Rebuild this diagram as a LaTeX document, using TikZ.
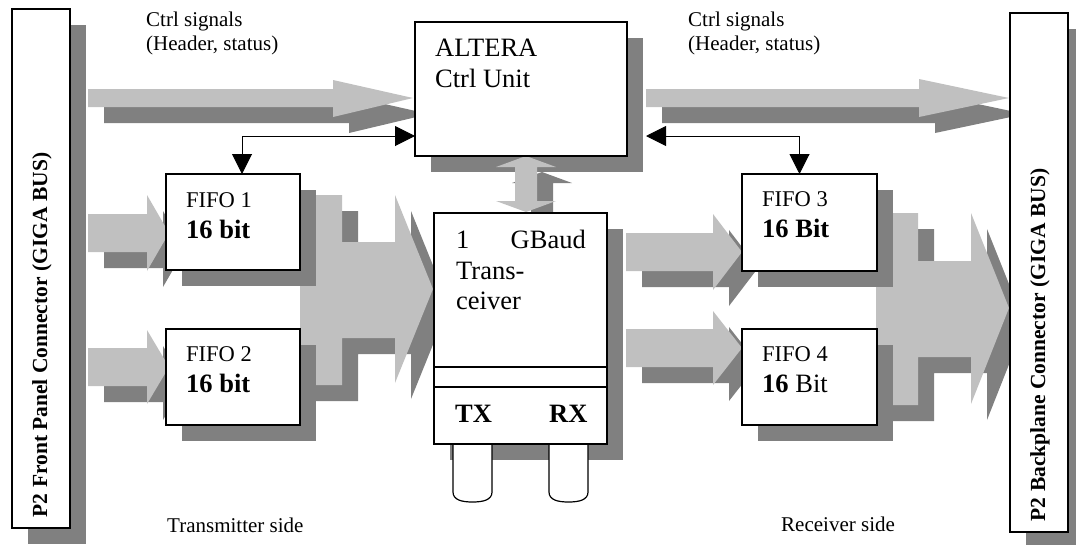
\documentclass[tikz,border=0pt]{standalone}
\usepackage{fontspec}
\setmainfont{Liberation Serif}
\usetikzlibrary{arrows.meta,calc}
\pgfdeclarelayer{ash}
\pgfdeclarelayer{arr}
\pgfdeclarelayer{bsh}
\pgfdeclarelayer{vsh}
\pgfdeclarelayer{varr}
\pgfsetlayers{ash,arr,bsh,vsh,varr,main}
\definecolor{lightarr}{HTML}{C0C0C0}
\definecolor{darksh}{HTML}{808080}
\newcommand\fsz[1]{\fontsize{#1}{#1}\selectfont}
\begin{document}
\begin{tikzpicture}[x=1pt,y=-1pt,
  box/.style={draw, line width=1.6pt, fill=white, outer sep=0pt, inner sep=0pt, anchor=north west},
  lbl/.style={inner sep=0pt, anchor=base west, font=\fsz{21}},
  boxtxt/.style={inner sep=0pt, anchor=base west, font=\fsz{22.5}},
  bigtxt/.style={inner sep=0pt, anchor=base west, font=\fsz{26.5}},
  boldtxt/.style={inner sep=0pt, anchor=base west, font=\fsz{26.5}\bfseries},
  conntxt/.style={inner sep=0pt, rotate=90, font=\fsz{21.5}\bfseries},
  biarrow/.style={line width=1pt, {Triangle[length=20pt,width=20pt]}-{Triangle[length=20pt,width=20pt]}},
  plug/.style={draw, line width=1.2pt, fill=white}]
\useasboundingbox (0,0) rectangle (1076,544);

% block arrows: shadow pass, then light pass
\foreach \d/\c/\l in {16/darksh/ash, 0/lightarr/arr}{
  \begin{pgfonlayer}{\l}
  \begin{scope}[shift={(\d,\d)}]
    \fill[\c] (88,89) -- (333,89) -- (333,80) -- (413,98) -- (333,117) -- (333,107) -- (88,107) -- cycle;
    \fill[\c] (646,89) -- (919,89) -- (919,79) -- (1009,98) -- (919,117) -- (919,107) -- (646,107) -- cycle;
    \fill[\c] (88,214) -- (147,214) -- (147,195) -- (169,233) -- (147,271) -- (147,252) -- (88,252) -- cycle;
    \fill[\c] (88,348) -- (147,348) -- (147,330) -- (169,367) -- (147,404) -- (147,386) -- (88,386) -- cycle;
    \fill[\c] (626,233) -- (713,233) -- (713,214) -- (742,252) -- (713,290) -- (713,271) -- (626,271) -- cycle;
    \fill[\c] (626,329) -- (713,329) -- (713,311) -- (742,348) -- (713,385) -- (713,367) -- (626,367) -- cycle;
    \fill[\c] (300,195) -- (342,195) -- (342,242) -- (395,242) -- (395,195) -- (433,289) -- (395,383) -- (395,338) -- (342,338) -- (342,385) -- (300,385) -- cycle;
    \fill[\c] (876,213) -- (918,213) -- (918,261) -- (971,261) -- (971,213) -- (1009,308) -- (971,404) -- (971,357) -- (918,357) -- (918,405) -- (876,405) -- cycle;
  \end{scope}
  \end{pgfonlayer}
}
% vertical double arrow between control unit and transceiver
\foreach \d/\c/\l in {16/darksh/vsh, 0/lightarr/varr}{
  \begin{pgfonlayer}{\l}
  \begin{scope}[shift={(\d,\d)}]
    \fill[\c] (526,156) -- (556,167) -- (537,167) -- (537,201) -- (556,201) -- (526,212) -- (496,201) -- (515,201) -- (515,167) -- (496,167) -- cycle;
  \end{scope}
  \end{pgfonlayer}
}

% plugs below the transceiver
\draw[plug] (453,444) -- (453,492) .. controls (453,500) and (462,502) .. (472.5,502) .. controls (483,502) and (492,500) .. (492,492) -- (492,444);
\draw[plug] (549,444) -- (549,492) .. controls (549,500) and (558,502) .. (568.5,502) .. controls (579,502) and (588,500) .. (588,492) -- (588,444);

% boxes
\node[box, minimum width=58pt, minimum height=519pt] (lconn) at (12,9) {};
\node[box, minimum width=58pt, minimum height=519pt] (rconn) at (1010,13) {};
\node[box, minimum width=212pt, minimum height=134pt] (altera) at (415,22) {};
\node[box, minimum width=134pt, minimum height=96pt] (fifo1) at (166,174) {};
\node[box, minimum width=134pt, minimum height=96pt] (fifo2) at (166,329) {};
\node[box, minimum width=135pt, minimum height=97pt] (fifo3) at (742,174) {};
\node[box, minimum width=135pt, minimum height=96pt] (fifo4) at (742,329) {};
\node[box, minimum width=173pt, minimum height=231pt] (trx) at (434,213) {};
\draw[line width=1.6pt] (trx.west |- 0,367) -- (trx.east |- 0,367);
\draw[line width=1.6pt] (trx.west |- 0,387) -- (trx.east |- 0,387);

% box shadows
\begin{pgfonlayer}{bsh}
\foreach \b in {lconn,rconn,altera,fifo1,fifo2,fifo3,fifo4,trx}
  \fill[darksh] ($(\b.north west)+(16,16)$) rectangle ($(\b.south east)+(16,16)$);
\end{pgfonlayer}

% black control connectors
\draw[biarrow] ([xshift=9pt]fifo1.north) |- ([yshift=-47pt]altera.west);
\draw[biarrow] ([xshift=-10pt]fifo3.north) |- ([xshift=19pt,yshift=-47pt]altera.east);

% texts
\node[lbl] (cl1) at (146,26) {Ctrl signals};
\node[lbl] (cl2) at (146,50) {(Header, status)};
\node[lbl] (cr1) at (688,26) {Ctrl signals};
\node[lbl] (cr2) at (688,50) {(Header, status)};
\node[lbl] (txside) at (167,532) {Transmitter side};
\node[lbl] (rxside) at (781,531) {Receiver side};
\node[bigtxt] (alt1) at (435,56) {ALTERA};
\node[bigtxt] (alt2) at (435,87) {Ctrl Unit};
\node[boxtxt] (f1a) at (186,207) {FIFO 1};
\node[boldtxt] (f1b) at (186,238) {16 bit};
\node[boxtxt] (f2a) at (186,361) {FIFO 2};
\node[boldtxt] (f2b) at (186,392) {16 bit};
\node[boxtxt] (f3a) at (762,206) {FIFO 3};
\node[boldtxt] (f3b) at (762,237) {16 Bit};
\node[boxtxt] (f4a) at (762,361) {FIFO 4};
\node[bigtxt] (f4b) at (762,392) {\textbf{16} Bit};
\node[bigtxt] (t1) at (456,248) {1};
\node[bigtxt, anchor=base east] (t2) at (586,248) {GBaud};
\node[bigtxt] (t3) at (456,279) {Trans-};
\node[bigtxt] (t4) at (456,309) {ceiver};
\node[boldtxt] (tx) at (455,422) {TX};
\node[boldtxt] (rx) at (549,422) {RX};
\node[conntxt] (lct) at (42,335) {P2 Front Panel Connector (GIGA BUS)};
\node[conntxt] (rct) at (1040,345) {P2 Backplane Connector (GIGA BUS)};
\end{tikzpicture}
\end{document}
